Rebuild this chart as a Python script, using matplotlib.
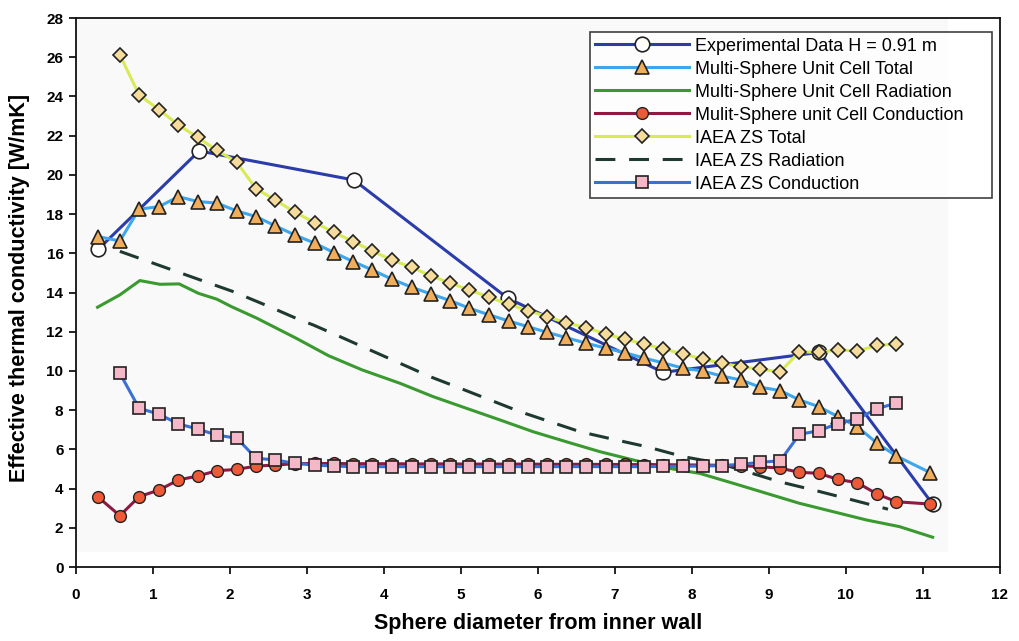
import matplotlib
matplotlib.use("Agg")
import matplotlib.pyplot as plt
from matplotlib.patches import Rectangle

# sphere positions (in sphere diameters from the inner wall)
x_ms = [0.29, 0.57, 0.82, 1.08, 1.33, 1.58, 1.83, 2.09, 2.34, 2.59, 2.84, 3.10,
        3.35, 3.60, 3.85, 4.10, 4.36, 4.61, 4.86, 5.11, 5.37, 5.62, 5.87, 6.12,
        6.37, 6.63, 6.88, 7.13, 7.38, 7.63, 7.89, 8.14, 8.39, 8.64, 8.89, 9.15,
        9.40, 9.65, 9.90, 10.15, 10.41, 10.66, 11.10]
x_zs = x_ms[1:42]

# experimental data, H = 0.91 m
x_exp = [0.29, 1.60, 3.61, 5.61, 7.63, 9.66, 11.13]
k_exp = [16.21, 21.22, 19.74, 13.71, 9.93, 10.95, 3.21]

# multi-sphere unit cell model
ms_total = [16.85, 16.63, 18.25, 18.38, 18.89, 18.64, 18.56, 18.16, 17.87, 17.40,
            16.94, 16.52, 16.04, 15.58, 15.15, 14.69, 14.27, 13.93, 13.59, 13.20,
            12.86, 12.55, 12.26, 11.97, 11.70, 11.41, 11.17, 10.93, 10.66, 10.41,
            10.14, 10.00, 9.74, 9.54, 9.17, 9.00, 8.52, 8.18, 7.67, 7.16, 6.31,
            5.66, 4.81]
ms_cond = [3.56, 2.62, 3.59, 3.93, 4.44, 4.64, 4.91, 4.98, 5.15, 5.20, 5.27,
           5.28, 5.28, 5.27, 5.27, 5.27, 5.26, 5.26, 5.26, 5.25, 5.25, 5.25, 5.25,
           5.24, 5.24, 5.24, 5.23, 5.23, 5.22, 5.22, 5.21, 5.20, 5.19, 5.17,
           5.12, 5.04, 4.83, 4.78, 4.47, 4.30, 3.72, 3.33, 3.21]
x_ms_rad = [0.28, 0.57, 0.83, 1.09, 1.34, 1.59, 1.83, 2.02, 2.35, 2.86, 3.28,
            3.72, 4.21, 4.64, 5.07, 5.51, 5.94, 6.37, 6.81, 7.24, 7.68, 8.10,
            8.54, 8.97, 9.40, 9.84, 10.27, 10.70, 11.13]
ms_rad = [13.25, 13.88, 14.61, 14.42, 14.44, 13.96, 13.66, 13.28, 12.69, 11.67,
          10.78, 10.05, 9.37, 8.69, 8.10, 7.50, 6.90, 6.39, 5.88, 5.46, 5.05,
          4.78, 4.27, 3.76, 3.25, 2.82, 2.40, 2.06, 1.52]

# IAEA zehner-schluender correlation
zs_total = [26.12, 24.08, 23.32, 22.55, 21.91, 21.26, 20.64, 19.29, 18.72, 18.10,
            17.57, 17.08, 16.60, 16.12, 15.66, 15.29, 14.85, 14.49, 14.13, 13.76,
            13.40, 13.08, 12.77, 12.46, 12.21, 11.89, 11.62, 11.38, 11.12, 10.87,
            10.61, 10.39, 10.22, 10.09, 9.96, 10.98, 10.95, 11.07, 11.02, 11.30,
            11.38]
zs_cond = [9.88, 8.10, 7.79, 7.30, 7.04, 6.73, 6.57, 5.55, 5.46, 5.29, 5.20, 5.15,
           5.12, 5.12, 5.12, 5.12, 5.12, 5.12, 5.12, 5.12, 5.12, 5.12, 5.12, 5.12,
           5.12, 5.12, 5.12, 5.12, 5.13, 5.14, 5.15, 5.17, 5.24, 5.34, 5.42, 6.77,
           6.95, 7.32, 7.55, 8.08, 8.36]
x_zs_rad = [0.57, 1.00, 1.50, 2.04, 2.50, 2.91, 3.08, 3.43, 3.82, 4.21, 4.60,
            4.99, 5.38, 5.77, 6.16, 6.55, 6.94, 7.41, 7.89, 8.36, 9.14, 9.58,
            10.01, 10.55]
zs_rad = [16.10, 15.50, 14.80, 14.05, 13.30, 12.60, 12.35, 11.75, 11.07, 10.39,
          9.71, 9.12, 8.52, 7.92, 7.41, 6.90, 6.55, 6.14, 5.63, 5.29, 4.35, 3.93,
          3.50, 2.95]

plt.rcParams["font.family"] = ["Liberation Sans", "DejaVu Sans"]

fig = plt.figure(figsize=(10.2, 6.41), dpi=100)
ax = fig.add_axes([0.0745, 0.1154, 0.9055, 0.8565])

# faint paper tone behind the data
ax.add_patch(Rectangle((0, 0.77), 11.33, 27.23, facecolor="#f9f9f9",
                       edgecolor="none", zorder=0))

lw = 2.2
ax.plot(x_exp, k_exp, color="#2b3cab", lw=lw, marker="o", ms=10.5,
        mfc="white", mec="#222222", mew=1.2,
        label="Experimental Data H = 0.91 m", zorder=2)
ax.plot(x_ms, ms_total, color="#3ea6ec", lw=lw, marker="^", ms=10,
        mfc="#f0ad5c", mec="#222222", mew=1.2,
        label="Multi-Sphere Unit Cell Total", zorder=3)
ax.plot(x_ms_rad, ms_rad, color="#3a9a30", lw=lw,
        label="Multi-Sphere Unit Cell Radiation", zorder=2)
ax.plot(x_ms, ms_cond, color="#8e1a44", lw=lw, marker="o", ms=8.5,
        mfc="#ee5a38", mec="#222222", mew=1.0,
        label="Mulit-Sphere unit Cell Conduction", zorder=3)
ax.plot(x_zs, zs_total, color="#d9ea55", lw=lw, marker="D", ms=7.5,
        mfc="#f6dc9c", mec="#222222", mew=1.2,
        label="IAEA ZS Total", zorder=3)
ax.plot(x_zs_rad, zs_rad, color="#1e3a30", lw=lw, dashes=(6.5, 4.5),
        label="IAEA ZS Radiation", zorder=2)
ax.plot(x_zs, zs_cond, color="#3b6fd4", lw=lw, marker="s", ms=8.5,
        mfc="#f5b8c8", mec="#222222", mew=1.2,
        label="IAEA ZS Conduction", zorder=4)

ax.set_xlim(0, 12)
ax.set_ylim(0, 28)
ax.set_xticks(range(0, 13))
ax.set_yticks(range(0, 29, 2))
ax.tick_params(direction="out", length=5, width=1.2, labelsize=11)
for lab in ax.get_xticklabels() + ax.get_yticklabels():
    lab.set_fontweight("bold")
for s in ax.spines.values():
    s.set_linewidth(1.3)
    s.set_color("#111111")
ax.tick_params(axis="x", pad=10)
ax.tick_params(axis="y", pad=4)

ax.set_xlabel("Sphere diameter from inner wall", fontsize=15.5,
              fontweight="bold", labelpad=8)
ax.set_ylabel("Effective thermal conductivity [W/mK]", fontsize=15.5,
              fontweight="bold")
ax.yaxis.set_label_coords(-0.05, 0.508)

leg = ax.legend(loc="upper left", mode="expand", fontsize=13,
                handlelength=5.2, handletextpad=0.3, labelspacing=0.33,
                borderpad=0.32, borderaxespad=0.0,
                frameon=True, fancybox=False, edgecolor="#111111")
leg.set_bbox_to_anchor((0.556, 0.672, 0.436, 0.3025), transform=ax.transAxes)
leg.get_frame().set_linewidth(1.2)

fig.savefig("out.png", dpi=100, facecolor="white")
